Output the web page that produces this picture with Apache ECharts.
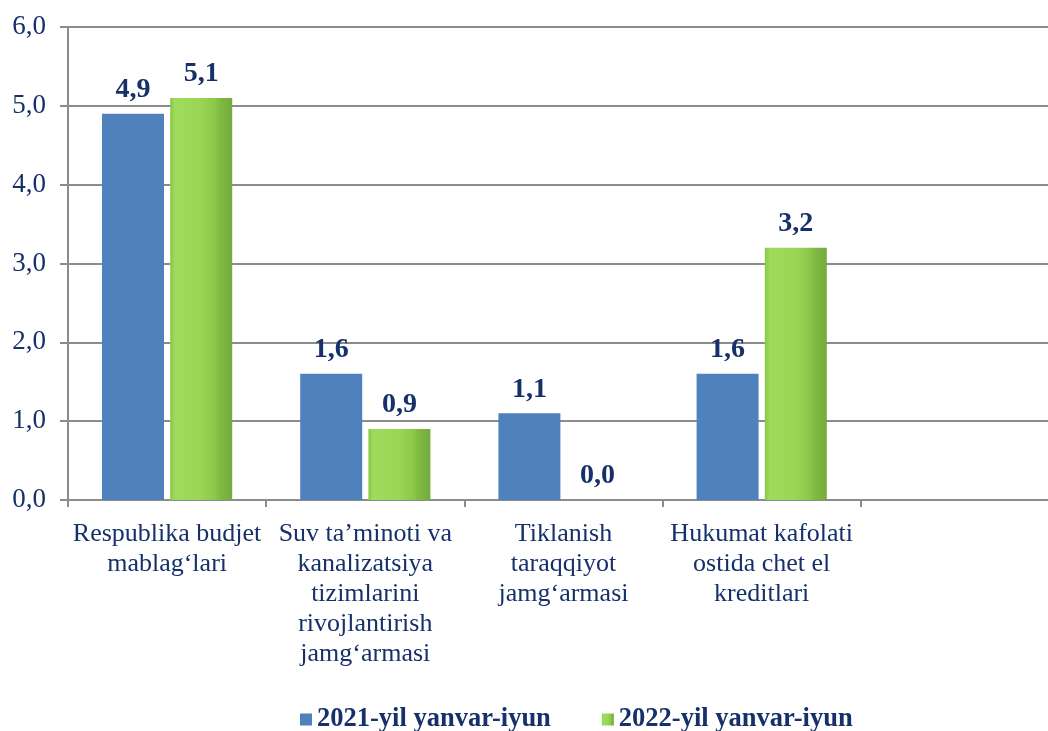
<!DOCTYPE html>
<html><head><meta charset="utf-8">
<script src="https://cdn.jsdelivr.net/npm/echarts@6/dist/echarts.min.js"></script>
<style>html,body{margin:0;padding:0;background:#fff;overflow:hidden}#c{width:1060px;height:731px}</style>
</head><body><div id="c"></div>
<script>
const categories = ["Respublika budjet\nmablag‘lari", "Suv ta’minoti va\nkanalizatsiya\ntizimlarini\nrivojlantirish\njamg‘armasi", "Tiklanish\ntaraqqiyot\njamg‘armasi", "Hukumat kafolati\nostida chet el\nkreditlari", ""];
const seriesNames = ["2021-yil yanvar-iyun", "2022-yil yanvar-iyun"];
const values2021 = [4.9, 1.6, 1.1, 1.6, null];
const values2022 = [5.1, 0.9, 0.0, 3.2, null];

const navy = '#16306a';
const fontFam = '"Liberation Serif", "Times New Roman", serif';
const fmt = v => v.toFixed(1).replace('.', ',');
const greenGrad = new echarts.graphic.LinearGradient(0, 0, 1, 0, [
  {offset: 0, color: '#88c648'},
  {offset: 0.08, color: '#a0dc5c'},
  {offset: 0.5, color: '#9ad554'},
  {offset: 0.72, color: '#8cc84a'},
  {offset: 0.8, color: '#80bb43'},
  {offset: 1, color: '#74ab3c'}
]);
const labelCfg = {
  show: true, position: 'top', distance: 10,
  fontFamily: fontFam, fontWeight: 'bold', fontSize: 28, color: navy,
  formatter: p => p.value == null ? '' : fmt(p.value)
};
const chart = echarts.init(document.getElementById('c'));
chart.setOption({
  animation: false,
  grid: {left: 68, right: 1, top: 27, bottom: 231, containLabel: false},
  legend: {
    left: 300, top: 706, padding: 0, icon: 'rect', itemWidth: 12, itemHeight: 12, itemGap: 51,
    textStyle: {fontFamily: fontFam, fontWeight: 'bold', fontSize: 26.5, color: navy},
    data: seriesNames
  },
  xAxis: {
    type: 'category', data: categories,
    axisLine: {lineStyle: {color: '#8c8c8c', width: 2}},
    axisTick: {show: true, length: 7, lineStyle: {color: '#8c8c8c', width: 2}},
    axisLabel: {interval: 0, margin: 19, fontFamily: fontFam, fontSize: 26, lineHeight: 30, color: navy}
  },
  yAxis: {
    type: 'value', min: 0, max: 6, interval: 1,
    axisLine: {show: true, lineStyle: {color: '#8c8c8c', width: 2}},
    axisTick: {show: true, length: 8, lineStyle: {color: '#8c8c8c', width: 2}},
    splitLine: {lineStyle: {color: '#8c8c8c', width: 2}},
    axisLabel: {margin: 22, fontFamily: fontFam, fontSize: 27, color: navy, formatter: v => fmt(v)}
  },
  series: [
    {name: seriesNames[0], type: 'bar', data: values2021, barWidth: 62, barGap: '10%',
     itemStyle: {color: '#4f81bd'}, label: labelCfg},
    {name: seriesNames[1], type: 'bar', data: values2022, barWidth: 62,
     itemStyle: {color: greenGrad}, label: labelCfg}
  ]
});
</script></body></html>
